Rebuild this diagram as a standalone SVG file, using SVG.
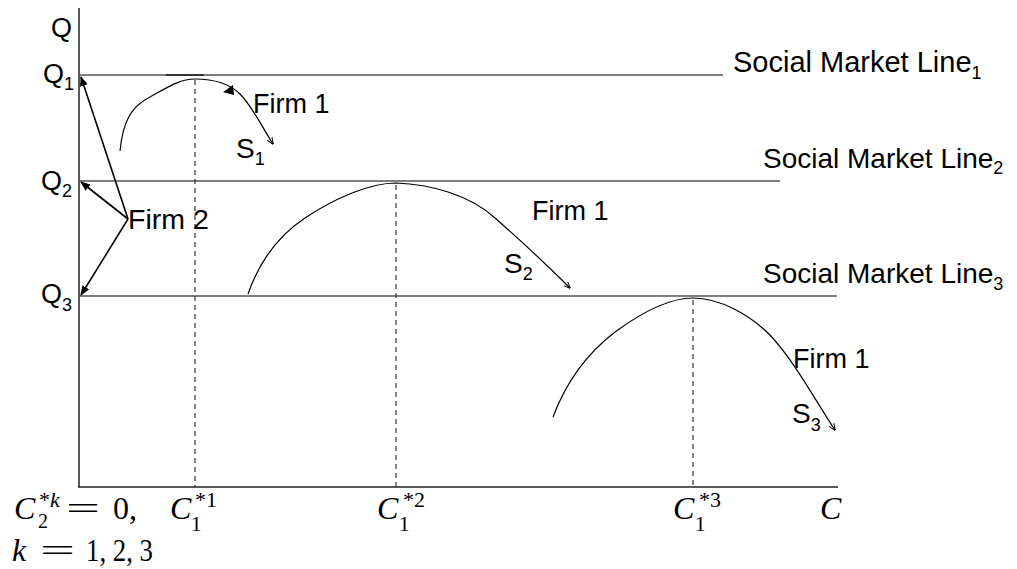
<svg xmlns="http://www.w3.org/2000/svg" width="1017" height="569" viewBox="0 0 1017 569">
<style>
.lbl{font-family:"Liberation Sans",Arial,sans-serif;fill:#000}
.m{font-family:"Liberation Serif","Times New Roman",serif;fill:#000}
.it{font-style:italic}
.ax{stroke:#222;stroke-width:1.5;fill:none}
.sml{stroke:#555;stroke-width:1.6;fill:none}
.dash{stroke:#222;stroke-width:1.1;stroke-dasharray:5,4;fill:none}
.curve{stroke:#000;stroke-width:1.2;fill:none}
.arr{stroke:#000;stroke-width:1.6;fill:none}
</style>
<defs>
<marker id="fill" viewBox="0 0 10 10" refX="9" refY="5" markerWidth="10" markerHeight="10" markerUnits="userSpaceOnUse" orient="auto">
<path d="M0,1 L10,5 L0,9 Z" fill="#000"/>
</marker>
<marker id="open" viewBox="0 0 10 10" refX="9" refY="5" markerWidth="7" markerHeight="7" markerUnits="userSpaceOnUse" orient="auto">
<path d="M0,1 L10,5 L0,9" fill="none" stroke="#000" stroke-width="1.4"/>
</marker>
</defs>

<g id="axes">
<line class="ax" x1="79" y1="8" x2="79" y2="487"/>
<line class="ax" x1="78" y1="487" x2="838" y2="487"/>
<text class="lbl" x="51" y="37" font-size="27">Q</text>
<text class="m it" x="820" y="519" font-size="32">C</text>
</g>

<g id="line1">
<line class="sml" x1="79" y1="75" x2="723" y2="75"/>
<line stroke="#333" stroke-width="2" x1="166" y1="75" x2="204" y2="75"/>
<text class="lbl" x="733" y="72" font-size="29">Social Market Line<tspan font-size="18" dy="7">1</tspan></text>
<text class="lbl" x="43" y="83" font-size="27">Q<tspan font-size="18" dy="7">1</tspan></text>
</g>
<g id="line2">
<line class="sml" x1="79" y1="181" x2="780" y2="181"/>
<text class="lbl" x="763" y="168" font-size="28">Social Market Line<tspan font-size="18" dy="6">2</tspan></text>
<text class="lbl" x="41" y="190" font-size="27">Q<tspan font-size="18" dy="7">2</tspan></text>
</g>
<g id="line3">
<line class="sml" x1="79" y1="296" x2="837" y2="296"/>
<text class="lbl" x="763" y="283" font-size="28">Social Market Line<tspan font-size="18" dy="7">3</tspan></text>
<text class="lbl" x="41" y="303" font-size="27">Q<tspan font-size="18" dy="8">3</tspan></text>
</g>

<g id="connectors">
<line class="dash" x1="195" y1="80" x2="195" y2="487"/>
<line class="dash" x1="396" y1="185" x2="396" y2="487"/>
<line class="dash" x1="693" y1="300" x2="693" y2="487"/>
<line class="arr" x1="128" y1="219" x2="81" y2="77" marker-end="url(#fill)"/>
<line class="arr" x1="128" y1="219" x2="81" y2="182" marker-end="url(#fill)"/>
<line class="arr" x1="128" y1="219" x2="81" y2="295" marker-end="url(#fill)"/>
</g>

<g id="firm2">
<text class="lbl" x="128" y="229" font-size="28.5">Firm 2</text>
</g>

<g id="s1">
<path class="curve" d="M120,151 C123,120 132,106 150,97 C168,87 180,79 195,79 C215,79 230,84 240,94 C252,106 262,127 273,144" marker-end="url(#open)"/>
<polygon points="223,92 233,85 234,95" fill="#000"/>
<text class="lbl" x="253" y="113" font-size="27">Firm 1</text>
<text class="lbl" x="236" y="158" font-size="28">S<tspan font-size="18" dy="7">1</tspan></text>
</g>

<g id="s2">
<path class="curve" d="M248,294 C258,265 275,238 305,218 C335,198 370,183 396,183 C430,184 470,195 495,218 C520,240 550,268 570,288" marker-end="url(#open)"/>
<text class="lbl" x="532" y="220" font-size="27">Firm 1</text>
<text class="lbl" x="504" y="273" font-size="28">S<tspan font-size="18" dy="7">2</tspan></text>
</g>

<g id="s3">
<path class="curve" d="M553,417 C565,385 585,355 615,332 C645,310 670,298 693,298 C720,298 750,315 770,335 C795,362 815,400 835,430" marker-end="url(#open)"/>
<text class="lbl" x="793" y="368" font-size="27">Firm 1</text>
<text class="lbl" x="792" y="423" font-size="28">S<tspan font-size="18" dy="8">3</tspan></text>
</g>

<g id="math">
<text class="m it" x="14" y="519" font-size="32">C</text>
<text class="m" x="39" y="507" font-size="22">*<tspan class="it">k</tspan></text>
<text class="m" x="38" y="528" font-size="20">2</text>
<text class="m" x="66" y="519" font-size="32" textLength="34" lengthAdjust="spacingAndGlyphs">=</text>
<text class="m" x="113" y="519" font-size="32">0,</text>
<text class="m it" x="12" y="561" font-size="32">k</text>
<text class="m" x="40" y="561" font-size="32" textLength="35" lengthAdjust="spacingAndGlyphs">=</text>
<text class="m" x="86" y="561" font-size="32" textLength="67" lengthAdjust="spacingAndGlyphs">1, 2, 3</text>

<text class="m it" x="170" y="519" font-size="32">C</text>
<text class="m" x="195" y="507" font-size="22">*1</text>
<text class="m" x="191" y="531" font-size="21">1</text>

<text class="m it" x="377" y="519" font-size="32">C</text>
<text class="m" x="403" y="507" font-size="22">*2</text>
<text class="m" x="399" y="531" font-size="21">1</text>

<text class="m it" x="673" y="519" font-size="32">C</text>
<text class="m" x="699" y="507" font-size="22">*3</text>
<text class="m" x="695" y="531" font-size="21">1</text>
</g>
</svg>
